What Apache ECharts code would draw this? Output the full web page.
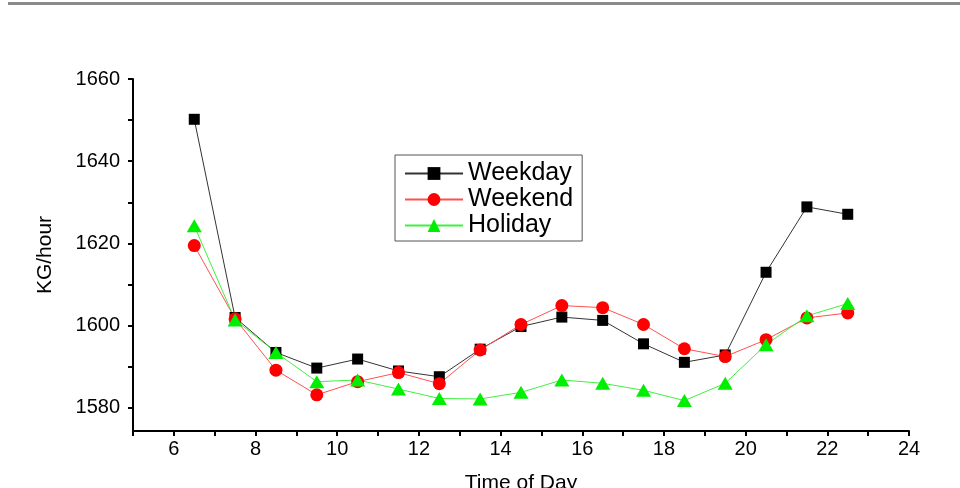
<!DOCTYPE html>
<html>
<head>
<meta charset="utf-8">
<script src="https://cdn.jsdelivr.net/npm/echarts@6/dist/echarts.min.js"></script>
<style>
  html, body { margin: 0; padding: 0; background: #fff; }
  #chart { width: 960px; height: 488px; }
</style>
</head>
<body>
<div id="chart"></div>
<script>
// hours (x values)
const hours = [6.5, 7.5, 8.5, 9.5, 10.5, 11.5, 12.5, 13.5, 14.5, 15.5, 16.5, 17.5, 18.5, 19.5, 20.5, 21.5, 22.5];
// KG/hour per series
const weekday = [1650.2, 1602.0, 1593.5, 1589.7, 1591.9, 1589.0, 1587.6, 1594.3, 1599.8, 1602.1, 1601.3, 1595.6, 1591.1, 1592.9, 1613.0, 1628.9, 1627.1];
const weekend = [1619.5, 1601.7, 1589.2, 1583.2, 1586.4, 1588.6, 1585.9, 1594.1, 1600.3, 1604.9, 1604.4, 1600.3, 1594.4, 1592.5, 1596.6, 1601.9, 1603.1];
const holiday = [1624.3, 1601.4, 1593.5, 1586.4, 1586.8, 1584.6, 1582.3, 1582.2, 1583.8, 1586.8, 1586.0, 1584.3, 1581.8, 1586.0, 1595.4, 1602.4, 1605.4];
const yLabels = [1580, 1600, 1620, 1640, 1660];
const yTicks = [1580, 1590, 1600, 1610, 1620, 1630, 1640, 1650, 1660];

function pairs(arr) {
  return arr.map((v, i) => [hours[i], v]);
}

const font = "Liberation Sans, Arial, sans-serif";
const chart = echarts.init(document.getElementById("chart"));
chart.setOption({
  animation: false,
  textStyle: { fontFamily: font },
  graphic: [
    { type: "rect", left: 8, top: 2, shape: { width: 952, height: 3 }, style: { fill: "#8a8a8a" } }
  ],
  grid: { left: 133, right: 51, top: 79, bottom: 57, outerBoundsMode: "none" },
  legend: {
    orient: "vertical",
    left: 395,
    top: 155,
    padding: [6, 9, 3, 9],
    itemGap: 1,
    itemWidth: 58,
    itemHeight: 16,
    borderColor: "#555",
    borderWidth: 1,
    borderRadius: 0,
    textStyle: { fontSize: 25, lineHeight: 25, color: "#000", fontFamily: font },
    data: ["Weekday", "Weekend", "Holiday"]
  },
  xAxis: {
    type: "value",
    min: 5,
    max: 24,
    interval: 1,
    name: "Time of Day",
    nameLocation: "middle",
    nameGap: 42,
    nameTextStyle: { fontSize: 21, color: "#000" },
    axisLine: { lineStyle: { color: "#000", width: 2 } },
    axisTick: { length: 5, lineStyle: { color: "#000", width: 2 } },
    axisLabel: {
      fontSize: 20,
      color: "#000",
      margin: 8,
      formatter: v => (v % 2 === 0 ? String(v) : "")
    },
    splitLine: { show: false }
  },
  yAxis: {
    type: "value",
    min: 1574.4,
    max: 1660,
    name: "KG/hour",
    nameLocation: "middle",
    nameGap: 77,
    nameTextStyle: { fontSize: 21, color: "#000" },
    axisLine: { lineStyle: { color: "#000", width: 2 } },
    axisTick: { length: 5, customValues: yTicks, lineStyle: { color: "#000", width: 2 } },
    axisLabel: {
      fontSize: 20,
      color: "#000",
      margin: 13,
      customValues: yLabels,
      formatter: v => String(v)
    },
    splitLine: { show: false }
  },
  series: [
    {
      name: "Weekday",
      type: "line",
      data: pairs(weekday),
      symbol: "rect",
      symbolSize: 11,
      itemStyle: { color: "#000" },
      lineStyle: { color: "#333", width: 1 }
    },
    {
      name: "Weekend",
      type: "line",
      data: pairs(weekend),
      symbol: "circle",
      symbolSize: 13,
      itemStyle: { color: "#ff0000" },
      lineStyle: { color: "#ff5050", width: 1 }
    },
    {
      name: "Holiday",
      type: "line",
      data: pairs(holiday),
      symbol: "triangle",
      symbolSize: [15, 13],
      itemStyle: { color: "#00ee00" },
      lineStyle: { color: "#40f040", width: 1 }
    }
  ]
});
</script>
</body>
</html>
